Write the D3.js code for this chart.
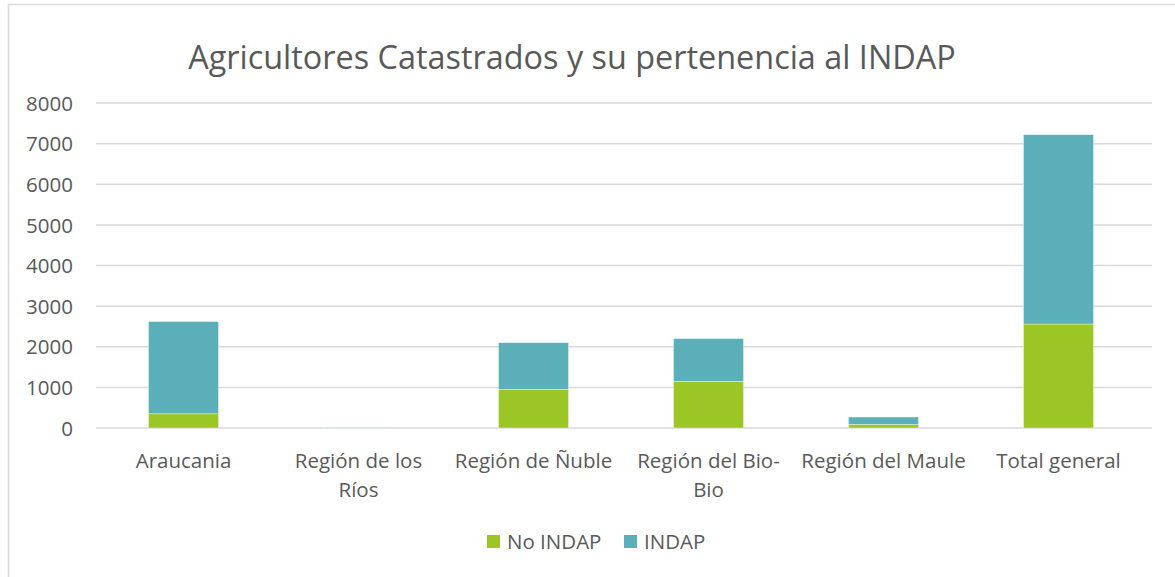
<!DOCTYPE html>
<html><head><meta charset="utf-8">
<script src="https://cdn.jsdelivr.net/npm/d3@7"></script>
<style>body{margin:0;background:#fff;} svg{display:block;}</style>
</head><body>
<svg id="chart" width="1175" height="577"></svg>
<script>
const categories = [["Araucania"], ["Región de los", "Ríos"], ["Región de Ñuble"], ["Región del Bio-", "Bio"], ["Región del Maule"], ["Total general"]];
const categoryKeys = ["Araucania", "Región de los Ríos", "Región de Ñuble", "Región del Bio-Bio", "Región del Maule", "Total general"];
const noIndap = [350, 5, 950, 1150, 90, 2560];
const indap = [2270, 15, 1150, 1050, 180, 4660];
const seriesNames = ["No INDAP", "INDAP"];
const seriesColors = ["#9BC625", "#5AAFB8"];
const yTicks = [0, 1000, 2000, 3000, 4000, 5000, 6000, 7000, 8000];
const title = "Agricultores Catastrados y su pertenencia al INDAP";

const svg = d3.select("#chart");
const font = "'Open Sans', 'Noto Sans', sans-serif";
const textColor = "#595959";
const fs = 20.5;

// frame
svg.append("rect").attr("x", 8.5).attr("y", 4.5).attr("width", 1175).attr("height", 600)
  .attr("fill", "#fff").attr("stroke", "#d9d9d9").attr("stroke-width", 1.5);

const m = {left: 96, right: 1152, top: 103, bottom: 428};
const x = d3.scaleBand().domain(categoryKeys).range([m.left, 1146]).paddingInner(0.6).paddingOuter(0.3);
const y = d3.scaleLinear().domain([0, 8000]).range([m.bottom, m.top]);

// gridlines
svg.append("g").selectAll("line").data(yTicks).join("line")
  .attr("x1", m.left).attr("x2", m.right)
  .attr("y1", d => y(d)).attr("y2", d => y(d))
  .attr("stroke", "#d9d9d9").attr("stroke-width", 1.5);

// y axis labels
const yAxis = d3.axisLeft(y).tickValues(yTicks).tickSize(0).tickPadding(0).tickFormat(d3.format("d"));
const ya = svg.append("g").attr("transform", "translate(73,0)").call(yAxis);
ya.select(".domain").remove();
ya.selectAll("text").attr("font-family", font).attr("font-size", fs).attr("fill", textColor).attr("dy", "0.35em");

// stacked bars
const rows = categoryKeys.map((k, i) => ({key: k, "No INDAP": noIndap[i], "INDAP": indap[i]}));
const stack = d3.stack().keys(seriesNames)(rows);
svg.append("g").selectAll("g").data(stack).join("g")
  .attr("fill", (d, i) => seriesColors[i])
  .selectAll("rect").data(d => d).join("rect")
  .attr("x", d => x(d.data.key))
  .attr("width", x.bandwidth())
  .attr("y", d => y(d[1]))
  .attr("height", d => y(d[0]) - y(d[1]))
  .attr("stroke", "#ffffff").attr("stroke-width", 0.6).attr("stroke-opacity", 0.6);

// x axis labels
const xAxis = d3.axisBottom(x).tickSize(0).tickFormat("");
const xa = svg.append("g").attr("transform", `translate(0,${m.bottom})`).call(xAxis);
xa.select(".domain").remove();
categoryKeys.forEach((k, i) => {
  const cx = x(k) + x.bandwidth() / 2;
  const t = svg.append("text").attr("x", cx).attr("y", 468)
    .attr("text-anchor", "middle").attr("font-family", font).attr("font-size", fs).attr("fill", textColor);
  categories[i].forEach((line, j) => {
    t.append("tspan").attr("x", cx).attr("dy", j === 0 ? 0 : 29).text(line);
  });
});

// title
svg.append("text").attr("x", 572).attr("y", 69).attr("text-anchor", "middle")
  .attr("font-family", font).attr("font-size", 32.4).attr("fill", textColor).text(title);

// legend
const legendItems = [{name: seriesNames[0], color: seriesColors[0], x: 487}, {name: seriesNames[1], color: seriesColors[1], x: 624}];
const lg = svg.append("g");
legendItems.forEach(it => {
  lg.append("rect").attr("x", it.x).attr("y", 535).attr("width", 13).attr("height", 13).attr("fill", it.color);
  lg.append("text").attr("x", it.x + 20).attr("y", 549).attr("font-family", font).attr("font-size", fs)
    .attr("fill", textColor).text(it.name);
});
</script>
</body></html>
